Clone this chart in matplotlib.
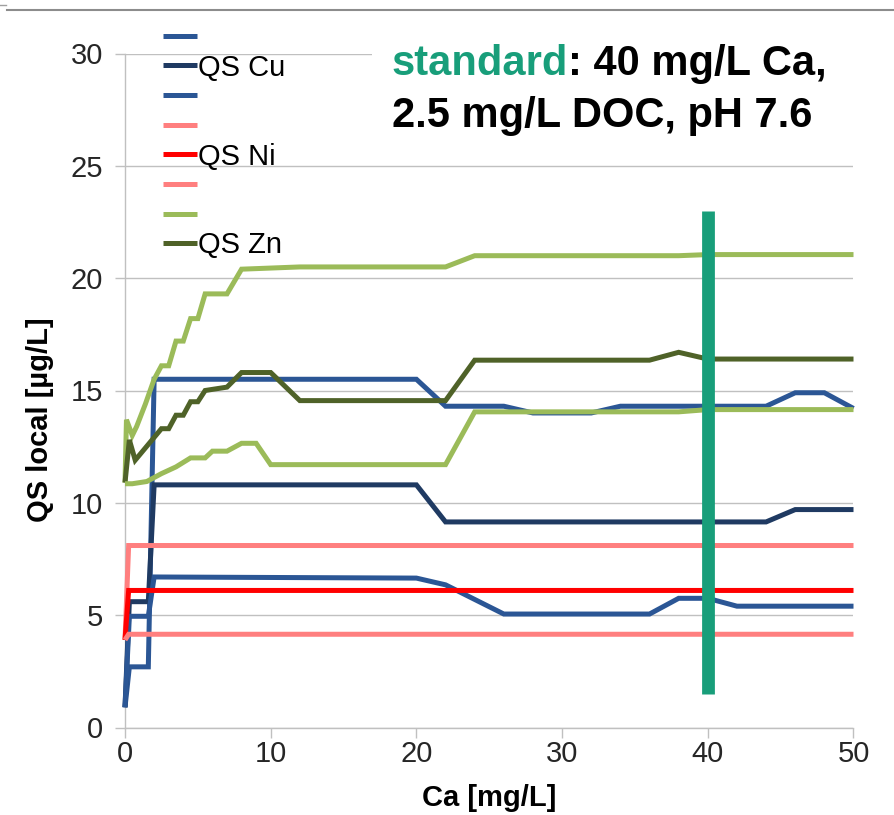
import matplotlib
matplotlib.use("Agg")
import matplotlib.pyplot as plt
from matplotlib.lines import Line2D
from matplotlib.patches import Rectangle

plt.rcParams['font.family'] = ['Liberation Sans', 'DejaVu Sans']

# --- Cu: local quality standard vs. Ca (three bioavailability scenarios) ---
x_cu = [0, 0.3, 1.6, 2, 20, 22, 24, 26, 28, 32, 34, 36, 38, 40, 42, 44, 46, 48, 50]
cu_high = [0.9, 2.7, 2.7, 15.5, 15.5, 14.3, 14.3, 14.3, 14.0, 14.0, 14.3, 14.3, 14.3,
           14.3, 14.3, 14.3, 14.9, 14.9, 14.2]
cu_qs = [0.9, 5.6, 5.6, 10.8, 10.8, 9.15, 9.15, 9.15, 9.15, 9.15, 9.15, 9.15, 9.15,
         9.15, 9.15, 9.15, 9.7, 9.7, 9.7]
cu_low = [0.9, 4.95, 4.95, 6.7, 6.65, 6.35, 5.7, 5.05, 5.05, 5.05, 5.05, 5.05, 5.75,
          5.75, 5.4, 5.4, 5.4, 5.4, 5.4]

# --- Ni ---
x_ni = [0, 0.25, 50]
ni_high = [3.9, 8.1, 8.1]
ni_qs = [3.9, 6.1, 6.1]
ni_low = [3.9, 4.15, 4.15]

# --- Zn ---
x_zn_hi = [0, 0.1, 0.5, 0.8, 1.4, 2, 2.5, 3, 3.5, 4, 4.5, 5, 5.5, 7, 8, 12, 22, 24,
           38, 40, 50]
zn_hi = [10.9, 13.7, 13.0, 13.4, 14.4, 15.5, 16.1, 16.1, 17.2, 17.2, 18.2, 18.2,
         19.3, 19.3, 20.4, 20.5, 20.5, 21.0, 21.0, 21.05, 21.05]
x_zn_qs = [0, 0.3, 0.7, 2.5, 3, 3.5, 4, 4.5, 5, 5.5, 7, 8, 10, 12, 22, 24, 36, 38,
           40, 50]
zn_qs = [10.9, 12.8, 11.9, 13.3, 13.3, 13.9, 13.9, 14.5, 14.5, 15.0, 15.15, 15.8,
         15.8, 14.55, 14.55, 16.35, 16.35, 16.7, 16.4, 16.4]
x_zn_lo = [0, 0.5, 1.5, 2.5, 3, 3.5, 4.5, 5.5, 6, 7, 8, 9, 10, 22, 24, 38, 40, 50]
zn_lo = [10.85, 10.85, 10.95, 11.3, 11.45, 11.6, 12.0, 12.0, 12.3, 12.3, 12.65,
         12.65, 11.7, 11.7, 14.05, 14.05, 14.15, 14.15]

legend_labels = ['', 'QS Cu', '', '', 'QS Ni', '', '', 'QS Zn']

# standard conditions marker
standard_ca = 40
standard_span = (1.5, 23.0)

C_BLUE = '#2B5695'
C_NAVY = '#1F3A62'
C_PINK = '#FF7F7F'
C_RED = '#FF0000'
C_LGREEN = '#9BBB59'
C_DGREEN = '#4F6228'
C_TEAL = '#189E7A'
GRID = '#C0C0C0'

W, H = 895, 815
fig = plt.figure(figsize=(W / 100, H / 100), dpi=100)
ax = fig.add_axes([125 / W, 1 - 727.5 / H, 728.5 / W, 674 / H])

lw = 3.6
series = [
    (x_cu, cu_high, C_BLUE), (x_cu, cu_qs, C_NAVY), (x_cu, cu_low, C_BLUE),
    (x_ni, ni_high, C_PINK), (x_ni, ni_qs, C_RED), (x_ni, ni_low, C_PINK),
    (x_zn_hi, zn_hi, C_LGREEN), (x_zn_qs, zn_qs, C_DGREEN), (x_zn_lo, zn_lo, C_LGREEN),
]
handles = []
for xs, ys, c in series:
    h, = ax.plot(xs, ys, color=c, lw=lw, solid_joinstyle='miter',
                 solid_capstyle='butt', zorder=3, clip_on=False)
    handles.append(h)

ax.plot([standard_ca, standard_ca], standard_span, color=C_TEAL, lw=9.2,
        solid_capstyle='butt', zorder=5)

ax.set_xlim(0, 50)
ax.set_ylim(0, 30)
ax.set_xticks(range(0, 51, 10))
ax.set_yticks(range(0, 31, 5))
ax.grid(axis='y', color=GRID, lw=1.0, zorder=0)
ax.set_axisbelow(True)
for s in ['top', 'right']:
    ax.spines[s].set_visible(False)
for s in ['left', 'bottom']:
    ax.spines[s].set_color(GRID)
    ax.spines[s].set_linewidth(1.0)
ax.tick_params(axis='both', length=7, width=1.0, color=GRID, labelsize=21,
               labelcolor='#262626')
ax.tick_params(axis='y', pad=9)
ax.tick_params(axis='x', pad=2)

ax.set_xlabel('Ca [mg/L]', fontsize=21, fontweight='bold')
ax.xaxis.set_label_coords(0.5, (727.5 - 812) / 674)
ax.xaxis.label.set_va('bottom')
ax.set_ylabel('QS local [µg/L]', fontsize=21, fontweight='bold')
ax.yaxis.set_label_coords((54 - 125) / 728.5, (727.5 - 420) / 674)

leg = fig.legend(handles[:8], legend_labels, loc='upper left',
                 bbox_to_anchor=(163 / W, 1 - 24 / H), frameon=False,
                 fontsize=21, handlelength=1.15, handletextpad=0.05,
                 labelspacing=0.056, borderpad=0, borderaxespad=0)

# white panel behind the conditions note
fig.add_artist(Rectangle((372 / W, 1 - 145 / H), 523 / W, 110 / H,
                         transform=fig.transFigure, facecolor='white',
                         edgecolor='none', zorder=2))
t1 = fig.text(392 / W, 1 - 75 / H, 'standard', color=C_TEAL, fontsize=30,
              fontweight='bold', va='baseline', ha='left', zorder=4)
fig.canvas.draw()
bb = t1.get_window_extent()
fig.text(bb.x1 / W, 1 - 75 / H, ': 40 mg/L Ca,', color='black', fontsize=30,
         fontweight='bold', va='baseline', ha='left', zorder=4)
fig.text(392 / W, 1 - 127 / H, '2.5 mg/L DOC, pH 7.6', color='black',
         fontsize=30, fontweight='bold', va='baseline', ha='left', zorder=4)

# slide separator rule at the top
fig.add_artist(Line2D([7 / W, 1], [1 - 10 / H, 1 - 10 / H],
                      transform=fig.transFigure, color='#8C8C8C', lw=1.5))
fig.add_artist(Line2D([0, 6 / W], [1 - 5 / H, 1 - 5 / H],
                      transform=fig.transFigure, color='#A0A0A0', lw=1.0))

fig.savefig('out.png', dpi=100)
